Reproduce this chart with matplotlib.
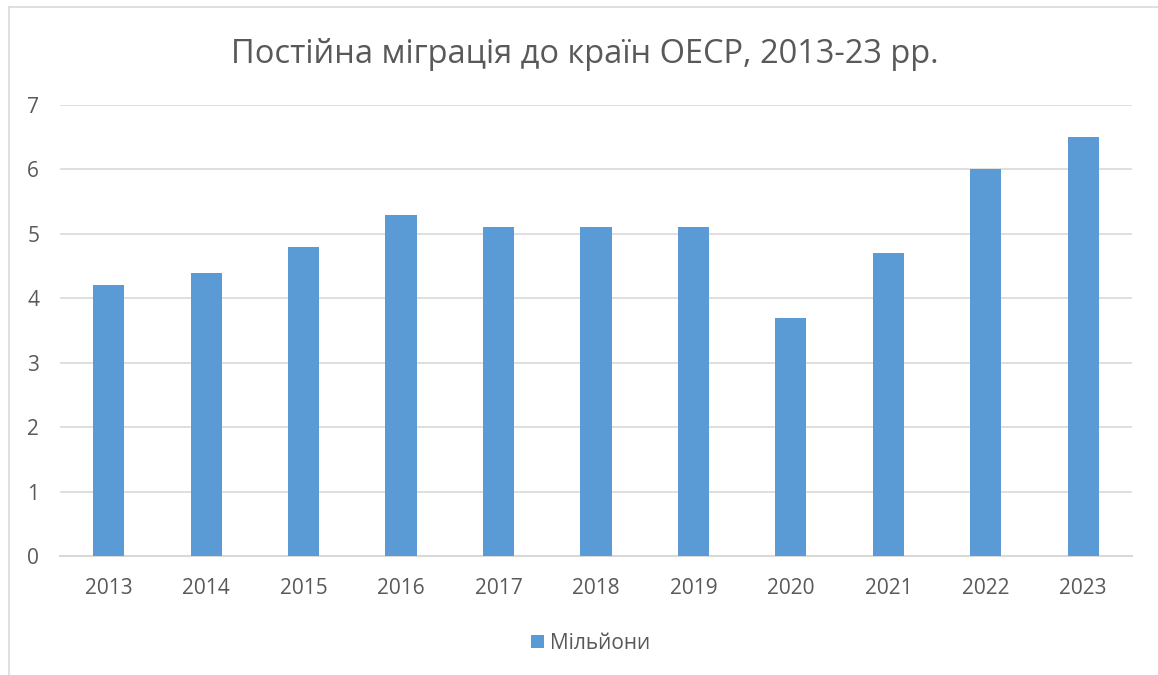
import matplotlib
matplotlib.use("Agg")
import matplotlib.pyplot as plt
from matplotlib.lines import Line2D
from matplotlib.patches import Patch

plt.rcParams['font.family'] = ['Open Sans', 'DejaVu Sans']

years = ['2013', '2014', '2015', '2016', '2017', '2018',
         '2019', '2020', '2021', '2022', '2023']
millions = [4.2, 4.4, 4.8, 5.3, 5.1, 5.1, 5.1, 3.7, 4.7, 6.0, 6.5]
series_name = 'Мільйони'
title = 'Постійна міграція до країн ОЕСР, 2013-23 рр.'

BAR = '#5B9BD5'
TXT = '#595959'
GRID = '#D9D9D9'

fig = plt.figure(figsize=(11.58, 6.75), dpi=100)
ax = fig.add_axes([0.0518, 0.1763, 0.9257, 0.6681])

x = range(len(years))
ax.bar(x, millions, width=0.32, color=BAR, zorder=3)

ax.set_xlim(-0.5, len(years) - 0.5)
ax.set_ylim(0, 7)
ax.set_yticks(range(0, 8))
ax.set_xticks(list(x))
ax.set_xticklabels(years)

ax.yaxis.grid(True, color=GRID, linewidth=1.2, zorder=0)
for s in ['top', 'right', 'left']:
    ax.spines[s].set_visible(False)
ax.spines['bottom'].set_color(GRID)
ax.spines['bottom'].set_linewidth(1.5)
ax.tick_params(axis='both', length=0, labelsize=15, colors=TXT)
ax.tick_params(axis='y', pad=15)
ax.tick_params(axis='x', pad=15.5)

fig.text(0.505, 0.919, title, ha='center', va='center',
         fontsize=23.5, color=TXT)

handle = Patch(facecolor=BAR, edgecolor='none')
fig.legend([handle], [series_name], loc='center',
           bbox_to_anchor=(0.51, 0.047), frameon=False,
           fontsize=15, labelcolor=TXT, handlelength=0.65,
           handleheight=0.65, handletextpad=0.3)

# chart frame (left and top edges visible)
fig.add_artist(Line2D([0.0078, 0.0078], [0, 0.9896], color=GRID,
                      linewidth=1.2, transform=fig.transFigure))
fig.add_artist(Line2D([0.0078, 1], [0.9896, 0.9896], color=GRID,
                      linewidth=1.2, transform=fig.transFigure))

fig.savefig('out.png', dpi=100, facecolor='white')
